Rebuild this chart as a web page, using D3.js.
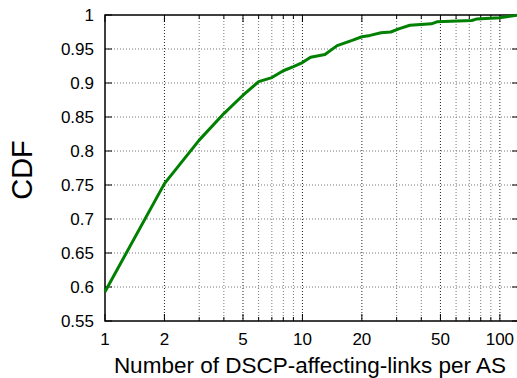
<!DOCTYPE html>
<html>
<head>
<meta charset="utf-8">
<script src="https://cdn.jsdelivr.net/npm/d3@7"></script>
<style>
  body { margin: 0; background: #fff; }
  svg { display: block; font-family: "Liberation Sans", Arial, sans-serif; }
</style>
</head>
<body>
<svg id="chart" width="517" height="378"></svg>
<script>
var linkCounts = [1, 2, 3, 4, 5, 6, 7, 8, 9, 10, 11, 13, 15, 18, 20, 22, 25, 28, 31, 35, 45, 48, 72, 76, 100, 125];
var cdfValues  = [0.593, 0.752, 0.816, 0.855, 0.882, 0.902, 0.908, 0.918, 0.924, 0.930, 0.938, 0.942, 0.955, 0.963, 0.968, 0.970, 0.974, 0.975, 0.980, 0.985, 0.987, 0.990, 0.992, 0.994, 0.996, 1.0];
var xTickValues = [1, 2, 5, 10, 20, 50, 100];
var yTickValues = [0.55, 0.6, 0.65, 0.7, 0.75, 0.8, 0.85, 0.9, 0.95, 1];

var svg = d3.select("#chart");
var plotLeft = 105, plotTop = 15, plotBottom = 321, plotRight = 519;

var x = d3.scaleLog().domain([1, 125]).range([plotLeft, plotRight]);
var y = d3.scaleLinear().domain([0.55, 1]).range([plotBottom, plotTop]);

// minor x positions: 1..9 per decade
var xMinor = [];
[1, 10, 100].forEach(function(d) {
  for (var i = 1; i < 10; i++) if (d * i <= 125) xMinor.push(d * i);
});

var grid = svg.append("g");
grid.selectAll("line.vx").data(xMinor.filter(function(v) { return v > 1; }))
  .enter().append("line")
    .attr("x1", function(d) { return x(d); })
    .attr("x2", function(d) { return x(d); })
    .attr("y1", plotTop).attr("y2", plotBottom)
    .attr("stroke", function(d) { return xTickValues.indexOf(d) >= 0 ? "#222" : "#777"; })
    .attr("stroke-width", 1)
    .attr("stroke-dasharray", "1,2");
grid.selectAll("line.hy").data(yTickValues.slice(1, -1))
  .enter().append("line")
    .attr("x1", plotLeft).attr("x2", plotRight)
    .attr("y1", function(d) { return y(d); })
    .attr("y2", function(d) { return y(d); })
    .attr("stroke", "#777")
    .attr("stroke-width", 1)
    .attr("stroke-dasharray", "1,2");

// inward ticks on all sides
var ticks = svg.append("g").attr("stroke", "#000").attr("stroke-width", 1);
xMinor.forEach(function(v) {
  var len = xTickValues.indexOf(v) >= 0 ? 7 : 4;
  ticks.append("line").attr("x1", x(v)).attr("x2", x(v)).attr("y1", plotBottom).attr("y2", plotBottom - len);
  ticks.append("line").attr("x1", x(v)).attr("x2", x(v)).attr("y1", plotTop).attr("y2", plotTop + len);
});
yTickValues.forEach(function(v) {
  ticks.append("line").attr("x1", plotLeft).attr("x2", plotLeft + 7).attr("y1", y(v)).attr("y2", y(v));
  ticks.append("line").attr("x1", plotRight).attr("x2", plotRight - 7).attr("y1", y(v)).attr("y2", y(v));
});

// frame
svg.append("rect")
  .attr("x", plotLeft).attr("y", plotTop)
  .attr("width", plotRight - plotLeft).attr("height", plotBottom - plotTop)
  .attr("fill", "none").attr("stroke", "#000").attr("stroke-width", 1.5);

// tick labels
svg.append("g").selectAll("text").data(yTickValues).enter().append("text")
  .attr("x", plotLeft - 11)
  .attr("y", function(d) { return y(d); })
  .attr("dy", "0.36em")
  .attr("text-anchor", "end")
  .attr("font-size", 17)
  .text(function(d) { return d3.format("")(d); });

svg.append("g").selectAll("text").data(xTickValues).enter().append("text")
  .attr("x", function(d) { return x(d); })
  .attr("y", plotBottom + 24)
  .attr("text-anchor", "middle")
  .attr("font-size", 17)
  .text(function(d) { return d; });

// axis titles
svg.append("text")
  .attr("x", 310).attr("y", 373)
  .attr("text-anchor", "middle")
  .attr("font-size", 22.5)
  .text("Number of DSCP-affecting-links per AS");

svg.append("text")
  .attr("transform", "translate(32,170) rotate(-90)")
  .attr("text-anchor", "middle")
  .attr("font-size", 29)
  .text("CDF");

// the curve
var pts = linkCounts.map(function(d, i) { return [d, cdfValues[i]]; });
svg.append("path")
  .datum(pts)
  .attr("fill", "none")
  .attr("stroke", "#008000")
  .attr("stroke-width", 3)
  .attr("stroke-linejoin", "round")
  .attr("d", d3.line().x(function(d) { return x(d[0]); }).y(function(d) { return y(d[1]); }));
</script>
</body>
</html>
